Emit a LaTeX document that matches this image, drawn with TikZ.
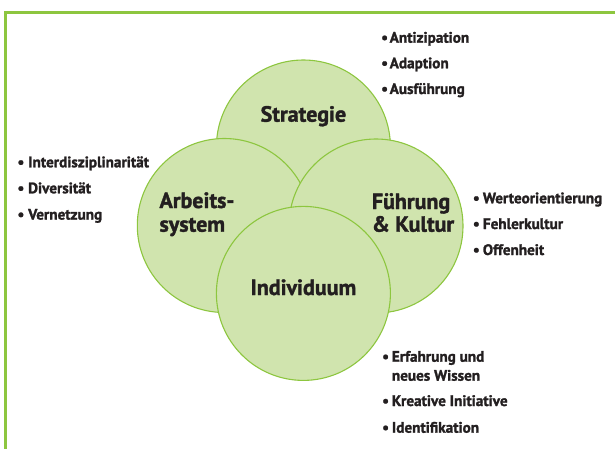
\documentclass[tikz,border=0pt]{standalone}
\usepackage{fontspec}
\setmainfont[BoldFeatures={FakeBold=1.6}]{PT Sans}
\definecolor{bordergreen}{RGB}{141,198,63}
\definecolor{circfill}{RGB}{208,228,174}
\definecolor{circline}{RGB}{141,198,63}
\definecolor{txt}{RGB}{35,31,32}
\begin{document}
\begin{tikzpicture}[x=1pt,y=-1pt,
  circ/.style={circle, draw=circline, line width=1.1pt, fill=circfill, minimum size=174pt, inner sep=0pt},
  title/.style={font=\fontsize{22}{24}\selectfont\bfseries, text=txt, inner sep=0pt},
  item/.style={font=\fontsize{15.2}{19}\selectfont\bfseries, text=txt, inner sep=0pt, anchor=base west},
]
\useasboundingbox (0,0) rectangle (615,449);
\coordinate (fb) at (5.5,449);
\coordinate (fc) at (5.5,12.3);
\coordinate (fr) at (615,12.3);
\draw[bordergreen, line width=3pt] (fb) -- (fc) -- (fr);

\node[circ] (S) at (303.4,147) {};
\node[circ] (A) at (224.3,225.5) {};
\node[circ] (F) at (376,226) {};
\node[circ] (I) at (303.4,293.4) {};

\node[title, anchor=base] (St) at (303.4,121.7) {Strategie};
\node[title, anchor=base west] (At1) at (159.3,208) {Arbeits-};
\node[title, anchor=base west] (At2) at (159.3,231.7) {system};
\node[title, anchor=base west] (Ft1) at (371.7,209) {Führung};
\node[title, anchor=base west] (Ft2) at (371.7,231.7) {\& Kultur};
\node[title, anchor=base] (It) at (303.4,295) {Individuum};

% top list
\node[item] (sb1) at (381,42.7) {•};
\node[item] (s1) at (389.5,42.7) {Antizipation};
\node[item] (sb2) at (381,68.3) {•};
\node[item] (s2) at (389.5,68.3) {Adaption};
\node[item] (sb3) at (381,94) {•};
\node[item] (s3) at (389.5,94) {Ausführung};

% left list
\node[item] (ab1) at (17.3,167.3) {•};
\node[item] (a1) at (28,167.3) {Interdisziplinarität};
\node[item] (ab2) at (17.3,193.3) {•};
\node[item] (a2) at (28,193.3) {Diversität};
\node[item] (ab3) at (17.3,219.6) {•};
\node[item] (a3) at (28,219.6) {Vernetzung};

% right list
\node[item] (fb1) at (472.7,203.3) {•};
\node[item] (f1) at (482.7,203.3) {Werteorientierung};
\node[item] (fb2) at (472.7,229) {•};
\node[item] (f2) at (482.7,229) {Fehlerkultur};
\node[item] (fb3) at (472.7,255) {•};
\node[item] (f3) at (482.7,255) {Offenheit};

% bottom list
\node[item] (ib1) at (382,361.7) {•};
\node[item] (i1) at (391.7,361.7) {Erfahrung und};
\node[item] (i1b) at (391.7,380.7) {neues Wissen};
\node[item] (ib2) at (382,406) {•};
\node[item] (i2) at (391.7,406) {Kreative Initiative};
\node[item] (ib3) at (382,432.7) {•};
\node[item] (i3) at (391.7,432.7) {Identifikation};
\end{tikzpicture}
\end{document}
